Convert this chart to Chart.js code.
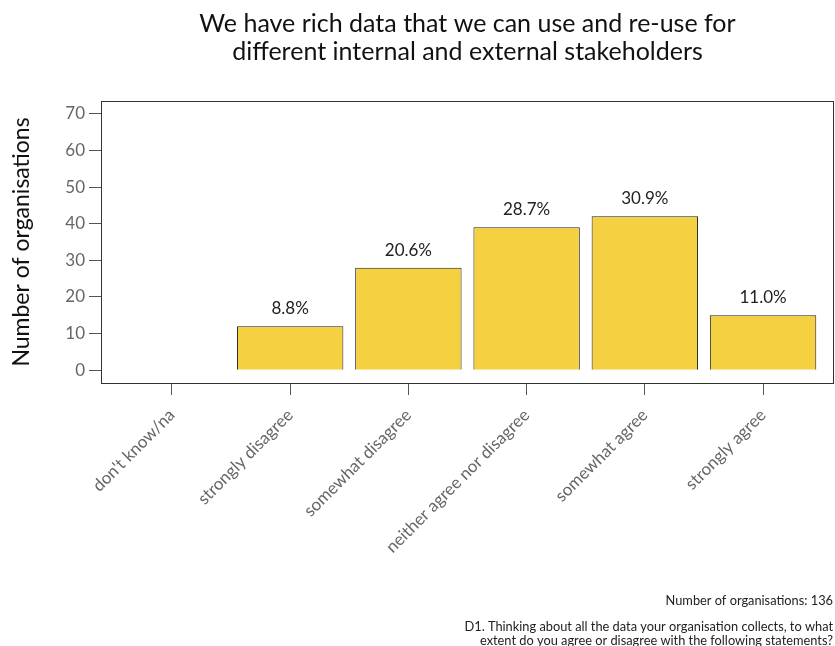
<!DOCTYPE html>
<html>
<head>
<meta charset="utf-8">
<script src="https://cdn.jsdelivr.net/npm/chart.js@4"></script>
<style>
  body { margin: 0; background: #fff; }
  #wrap { position: relative; width: 835px; height: 646px; }
</style>
</head>
<body>
<div id="wrap"><canvas id="chart"></canvas></div>
<script>
// values
const categories = ["don't know/na", "strongly disagree", "somewhat disagree", "neither agree nor disagree", "somewhat agree", "strongly agree"];
const counts = [0, 12, 28, 39, 42, 15];
const percentLabels = ["", "8.8%", "20.6%", "28.7%", "30.9%", "11.0%"];
const yTicks = [0, 10, 20, 30, 40, 50, 60, 70];
const titleLines = ["We have rich data that we can use and re-use for", "different internal and external stakeholders"];
const totalNote = "Number of organisations: 136";
const questionLines = ["D1. Thinking about all the data your organisation collects, to what", "extent do you agree or disagree with the following statements?"];

const FONT = "Lato, 'Open Sans', sans-serif";

// percent labels above bars + the box round the plot + notes at the bottom
const extras = {
  id: "extras",
  afterDatasetsDraw(chart) {
    const ctx = chart.ctx;
    const area = chart.chartArea;
    ctx.save();
    ctx.strokeStyle = "#333";
    ctx.lineWidth = 1;
    ctx.strokeRect(Math.round(area.left) + 0.5, Math.round(area.top) + 0.5,
      Math.round(area.right - area.left) - 1, Math.round(area.bottom - area.top));

    ctx.fillStyle = "#222";
    ctx.font = "17px " + FONT;
    ctx.textAlign = "center";
    ctx.textBaseline = "bottom";
    chart.getDatasetMeta(0).data.forEach((bar, i) => {
      if (percentLabels[i]) ctx.fillText(percentLabels[i], bar.x, bar.y - 9);
    });

    ctx.font = "12.8px " + FONT;
    ctx.textAlign = "right";
    ctx.textBaseline = "middle";
    ctx.fillText(totalNote, 833, 601);
    questionLines.forEach((line, i) => ctx.fillText(line, 833, 627 + i * 13.5));
    ctx.restore();
  }
};

new Chart(document.getElementById("chart"), {
  type: "bar",
  data: {
    datasets: [{
      data: counts.map((v, i) => ({ x: i, y: v })),
      backgroundColor: "#F5D142",
      borderColor: "#222",
      borderWidth: 1,
      barPercentage: 0.9,
      categoryPercentage: 1
    }]
  },
  options: {
    responsive: true,
    maintainAspectRatio: false,
    animation: false,
    layout: { padding: { right: 1 } },
    plugins: {
      legend: { display: false },
      tooltip: { enabled: false },
      title: {
        display: true,
        fullSize: false,
        text: titleLines,
        color: "#111",
        font: { family: FONT, size: 25, weight: "normal", lineHeight: 1.12 },
        padding: { top: 10, bottom: 35 }
      }
    },
    scales: {
      x: {
        type: "linear",
        offset: false,
        min: -0.6,
        max: 5.6,
        afterBuildTicks: (scale) => { scale.ticks = categories.map((c, i) => ({ value: i })); },
        afterFit: (scale) => { scale.height = 263; },
        border: { display: false },
        grid: { offset: false, drawOnChartArea: false, drawTicks: true, tickLength: 12, color: "#555" },
        ticks: {
          autoSkip: false,
          minRotation: 45,
          maxRotation: 45,
          padding: 10,
          color: "#666",
          font: { family: FONT, size: 17 },
          callback: (v) => categories[v]
        }
      },
      y: {
        min: -3.5,
        max: 73.5,
        afterBuildTicks: (scale) => { scale.ticks = yTicks.map(v => ({ value: v })); },
        afterFit: (scale) => { scale.width = 101; },
        border: { display: false },
        grid: { drawOnChartArea: false, drawTicks: true, tickLength: 12, color: "#555" },
        ticks: {
          padding: 4,
          color: "#666",
          font: { family: FONT, size: 17 }
        },
        title: {
          display: true,
          text: "Number of organisations",
          color: "#111",
          font: { family: FONT, size: 23 },
          padding: { top: 8, bottom: 0 }
        }
      }
    }
  },
  plugins: [extras]
});
</script>
</body>
</html>
